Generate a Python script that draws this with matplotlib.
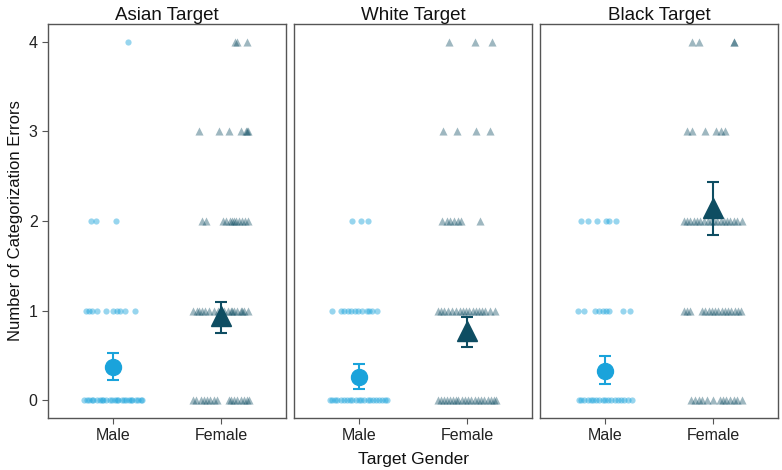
import matplotlib
matplotlib.use("Agg")
import matplotlib.pyplot as plt

plt.rcParams['font.family'] = ['Liberation Sans Narrow', 'Liberation Sans', 'DejaVu Sans']

targets = ["Asian Target", "White Target", "Black Target"]
genders = ["Male", "Female"]

# means and 95% CI for each target (male / female)
male_means = [0.37, 0.26, 0.33]
male_lo = [0.22, 0.12, 0.18]
male_hi = [0.53, 0.40, 0.49]
female_means = [0.94, 0.77, 2.15]
female_lo = [0.75, 0.59, 1.84]
female_hi = [1.10, 0.93, 2.44]

# raw responses: error count -> horizontal jitter of each participant
asian_male = {
    0: [-0.27, -0.24, -0.22, -0.19, -0.18, -0.15, -0.12, -0.10, -0.09, -0.06, -0.03, -0.01, 0.02,
        0.04, 0.05, 0.08, 0.10, 0.12, 0.15, 0.17, 0.18, 0.21, 0.23, 0.26, 0.27],
    1: [-0.25, -0.22, -0.19, -0.15, -0.06, 0.0, 0.04, 0.07, 0.11, 0.20],
    2: [-0.20, -0.16, 0.03],
    4: [0.14],
}
asian_female = {
    0: [-0.26, -0.23, -0.19, -0.16, -0.13, -0.10, -0.07, -0.04, 0.07, 0.09, 0.12, 0.15, 0.18,
        0.21, 0.24, 0.26],
    1: [-0.26, -0.22, -0.20, -0.18, -0.15, -0.11, -0.07, -0.03, 0.0, 0.03, 0.06, 0.09, 0.10,
        0.12, 0.15, 0.18, 0.19, 0.21, 0.25],
    2: [-0.18, -0.14, 0.02, 0.05, 0.08, 0.10, 0.12, 0.14, 0.17, 0.19, 0.22, 0.25],
    3: [-0.20, -0.02, 0.07, 0.18, 0.23, 0.24, 0.25],
    4: [0.13, 0.15, 0.24],
}
white_male = {
    0: [-0.27, -0.25, -0.22, -0.20, -0.17, -0.14, -0.11, -0.08, -0.06, -0.03, 0.0, 0.02, 0.05,
        0.08, 0.10, 0.13, 0.16, 0.19, 0.21, 0.24, 0.26],
    1: [-0.25, -0.17, -0.14, -0.10, -0.07, -0.04, -0.01, 0.03, 0.07, 0.09, 0.12, 0.17],
    2: [-0.06, 0.02, 0.08],
}
white_female = {
    0: [-0.27, -0.24, -0.21, -0.19, -0.16, -0.13, -0.10, -0.08, -0.05, -0.02, 0.01, 0.04, 0.07,
        0.10, 0.13, 0.16, 0.19, 0.22, 0.25, 0.27],
    1: [-0.27, -0.24, -0.21, -0.18, -0.14, -0.10, -0.07, -0.04, -0.01, 0.02, 0.05, 0.08, 0.11,
        0.14, 0.17, 0.21, 0.26],
    2: [-0.23, -0.19, -0.16, -0.12, -0.08, -0.06, 0.12],
    3: [-0.22, -0.09, 0.08, 0.21],
    4: [-0.17, 0.07, 0.23],
}
black_male = {
    0: [-0.24, -0.22, -0.19, -0.16, -0.13, -0.11, -0.08, -0.05, -0.02, 0.0, 0.03, 0.06, 0.09,
        0.12, 0.15, 0.18, 0.21, 0.25],
    1: [-0.25, -0.19, -0.09, -0.05, -0.02, 0.01, 0.04, 0.17, 0.23],
    2: [-0.22, -0.16, -0.07, 0.01, 0.04, 0.10],
}
black_female = {
    0: [-0.20, -0.17, -0.13, -0.10, -0.06, 0.0, 0.06, 0.09, 0.12, 0.16, 0.19, 0.22, 0.27],
    1: [-0.27, -0.24, -0.21, -0.10, -0.07, -0.04, -0.01, 0.02, 0.05, 0.08, 0.11, 0.14, 0.17,
        0.20, 0.23, 0.26],
    2: [-0.27, -0.24, -0.21, -0.18, -0.15, -0.12, -0.08, -0.05, -0.02, 0.01, 0.04, 0.07, 0.10,
        0.13, 0.16, 0.19, 0.22, 0.27],
    3: [-0.24, -0.19, -0.07, 0.03, 0.07, 0.11],
    4: [-0.19, -0.13, 0.19, 0.19],
}
male_raw = [asian_male, white_male, black_male]
female_raw = [asian_female, white_female, black_female]

male_col = '#1aa3db'
female_col = '#0e4d62'
spine_col = '#555555'

fig = plt.figure(figsize=(7.82, 4.70), dpi=100)
lefts = [0.0614, 0.3760, 0.6905]
width = 0.3043
axes = [fig.add_axes([l, 0.1106, width, 0.8384]) for l in lefts]

for i, ax in enumerate(axes):
    for level, offs in male_raw[i].items():
        ax.scatter([1 + o for o in offs], [level] * len(offs), s=20, marker='o',
                   color=male_col, alpha=0.45, linewidths=0, zorder=2)
    for level, offs in female_raw[i].items():
        ax.scatter([2 + o for o in offs], [level] * len(offs), s=34, marker='^',
                   color=female_col, alpha=0.4, linewidths=0, zorder=2)

    ax.errorbar([1], [male_means[i]],
                yerr=[[male_means[i] - male_lo[i]], [male_hi[i] - male_means[i]]],
                fmt='o', ms=11.5, color=male_col, ecolor=male_col, elinewidth=1.5,
                capsize=4.5, capthick=1.5, zorder=4)
    ax.errorbar([2], [female_means[i]],
                yerr=[[female_means[i] - female_lo[i]], [female_hi[i] - female_means[i]]],
                fmt='^', ms=14, color=female_col, ecolor=female_col, elinewidth=1.5,
                capsize=4.5, capthick=1.5, zorder=4)

    ax.set_xlim(0.4, 2.6)
    ax.set_ylim(-0.2, 4.2)
    ax.set_xticks([1, 2])
    ax.set_xticklabels(genders, fontsize=11.5, color='#222222')
    ax.set_yticks([0, 1, 2, 3, 4])
    ax.set_title(targets[i], fontsize=13.5, pad=3, color='#111111')
    for sp in ax.spines.values():
        sp.set_color(spine_col)
        sp.set_linewidth(1.0)
    ax.tick_params(axis='both', colors=spine_col, length=4, width=0.8, labelcolor='#222222')
    if i == 0:
        ax.tick_params(axis='y', labelsize=11.5)
        ax.set_ylabel('Number of Categorization Errors', fontsize=12, color='#111111')
    else:
        ax.tick_params(axis='y', left=False, labelleft=False)

axes[1].set_xlabel('Target Gender', fontsize=12.5, color='#111111', labelpad=6)

fig.savefig('out.png', dpi=100)
